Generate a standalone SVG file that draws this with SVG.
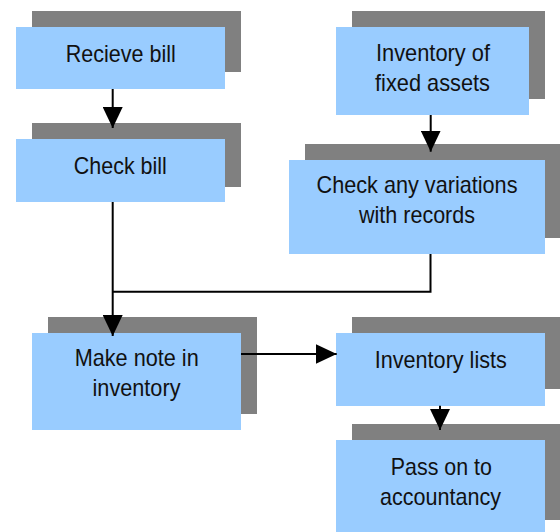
<svg xmlns="http://www.w3.org/2000/svg" width="560" height="532" viewBox="0 0 560 532">
<style>
.sh{fill:#808080}
.bx{fill:#99CCFF}
.t{font-family:"Liberation Sans",Arial,sans-serif;font-size:24px;fill:#111;text-anchor:middle}
.c{fill:none;stroke:#000;stroke-width:2}
</style>
<defs>
<marker id="ah" markerUnits="userSpaceOnUse" markerWidth="21" markerHeight="20" refX="21" refY="10" orient="auto">
<path d="M0,0 L21,10 L0,20 z" fill="#000"/>
</marker>
</defs>
<rect width="560" height="532" fill="#fff"/>
<g id="n1">
<rect class="sh" x="32" y="11" width="209" height="61"/>
<rect class="bx" x="16" y="27" width="209" height="62"/>
<text class="t" x="120.8" y="61.7" textLength="110" lengthAdjust="spacingAndGlyphs">Recieve bill</text>
</g>
<g id="n2">
<rect class="sh" x="32" y="123" width="209" height="64"/>
<rect class="bx" x="16" y="139" width="209" height="63"/>
<text class="t" x="120.3" y="174" textLength="93" lengthAdjust="spacingAndGlyphs">Check bill</text>
</g>
<g id="n3">
<rect class="sh" x="352" y="11" width="193" height="88"/>
<rect class="bx" x="336" y="27" width="193" height="88"/>
<text class="t" x="433" y="61" textLength="114" lengthAdjust="spacingAndGlyphs">Inventory of</text>
<text class="t" x="432.5" y="91" textLength="115" lengthAdjust="spacingAndGlyphs">fixed assets</text>
</g>
<g id="n4">
<rect class="sh" x="305" y="144" width="255" height="94"/>
<rect class="bx" x="289" y="160" width="256" height="94"/>
<text class="t" x="417" y="193.3" textLength="201" lengthAdjust="spacingAndGlyphs">Check any variations</text>
<text class="t" x="417" y="223" textLength="116" lengthAdjust="spacingAndGlyphs">with records</text>
</g>
<g id="n5">
<rect class="sh" x="48" y="317" width="209" height="97"/>
<rect class="bx" x="32" y="333" width="209" height="97"/>
<text class="t" x="136.7" y="366" textLength="124" lengthAdjust="spacingAndGlyphs">Make note in</text>
<text class="t" x="136.5" y="396" textLength="88" lengthAdjust="spacingAndGlyphs">inventory</text>
</g>
<g id="n6">
<rect class="sh" x="352" y="317" width="208" height="72"/>
<rect class="bx" x="336" y="333" width="209" height="73"/>
<text class="t" x="440.8" y="367.7" textLength="132" lengthAdjust="spacingAndGlyphs">Inventory lists</text>
</g>
<g id="n7">
<rect class="sh" x="352" y="424" width="208" height="96"/>
<rect class="bx" x="336" y="440" width="209" height="92"/>
<text class="t" x="441.3" y="475" textLength="101" lengthAdjust="spacingAndGlyphs">Pass on to</text>
<text class="t" x="440.5" y="505" textLength="121" lengthAdjust="spacingAndGlyphs">accountancy</text>
</g>
<g id="connectors">
<path class="c" d="M112.7,89 V128" marker-end="url(#ah)"/>
<path class="c" d="M112.7,202 V336" marker-end="url(#ah)"/>
<path class="c" d="M430.7,115 V151.7" marker-end="url(#ah)"/>
<path class="c" d="M430.5,254 V291.7 H112.7"/>
<path class="c" d="M241,354 H336.7" marker-end="url(#ah)"/>
<path class="c" d="M440,405.7 V430" marker-end="url(#ah)"/>
</g>
</svg>
